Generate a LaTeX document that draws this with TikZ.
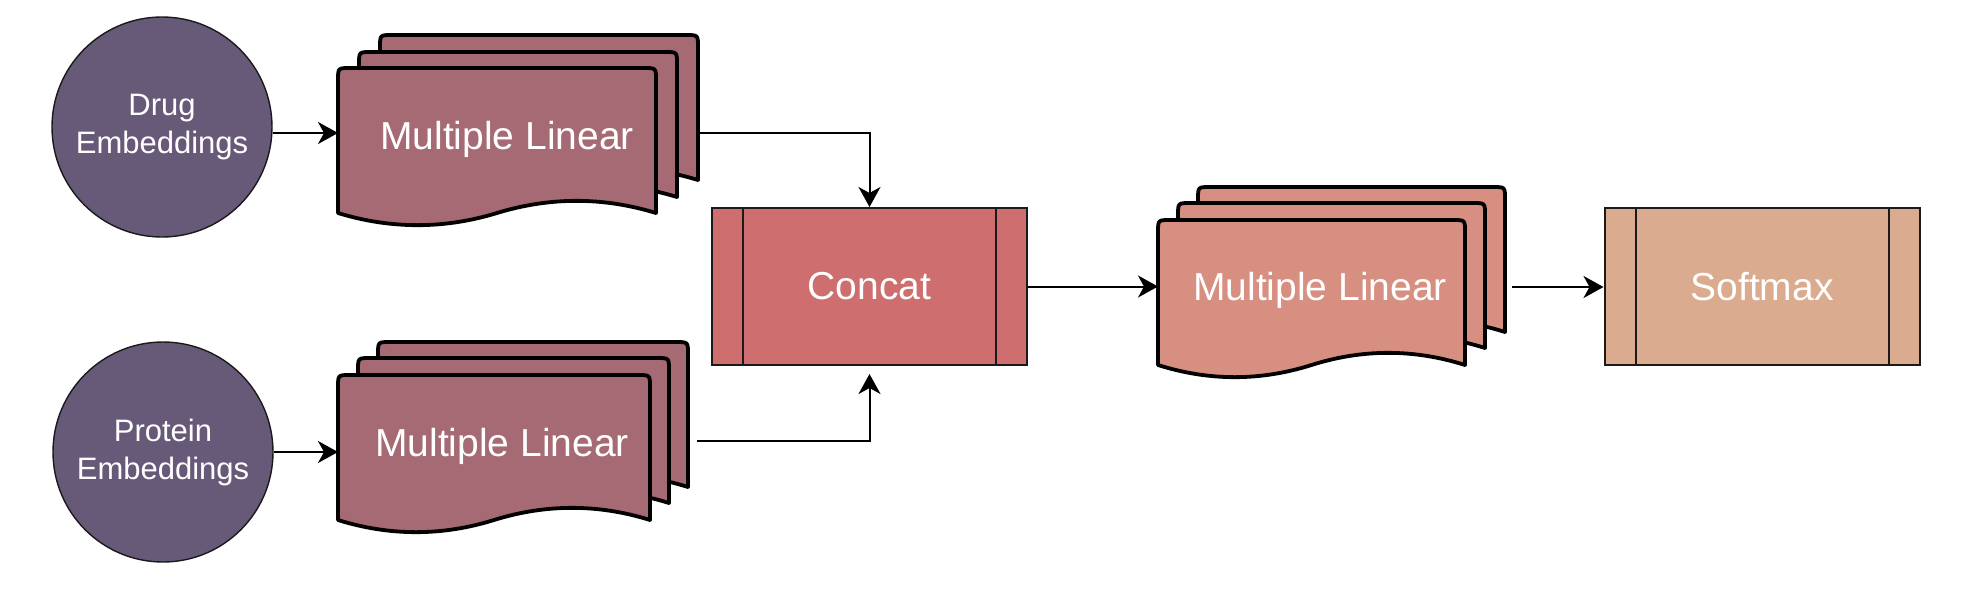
\documentclass[tikz,border=0pt]{standalone}
\usepackage{fontspec}
\setmainfont{Liberation Sans}
\usetikzlibrary{arrows.meta}
\definecolor{cEmb}{HTML}{675978}
\definecolor{cMlA}{HTML}{A66A74}
\definecolor{cCat}{HTML}{CE6E6E}
\definecolor{cMlB}{HTML}{D68F80}
\definecolor{cSoft}{HTML}{DAAB8E}
\definecolor{cEdge}{HTML}{1A1A1A}
\tikzset{
  arr/.style={draw=black, line width=1pt, -{Stealth[length=10pt,width=11pt,inset=3pt]}},
  emb/.style={circle, draw=cEdge, line width=0.7pt, fill=cEmb, minimum size=110pt, inner sep=0pt,
    text=white, align=center, font=\fontsize{15.5}{19}\selectfont},
  sheet/.style={draw=black, line width=1.9pt, line join=round},
  proc/.style={rectangle, draw=cEdge, line width=1pt, minimum width=157.5pt, minimum height=78.5pt,
    inner sep=0pt, text=white, font=\fontsize{19.5}{23}\selectfont},
  procline/.style={draw=cEdge, line width=1pt},
  lbl/.style={text=white, font=\fontsize{19.5}{23}\selectfont, inner sep=0pt},
}
% #1 fill, #2 x, #3 y (top), #4 width, #5 side height
\newcommand\docsheet[5]{%
  \draw[sheet, fill=#1] (#2,{#3+#5}) -- (#2,{#3+12}) .. controls (#2,#3) .. ({#2+12},#3)
    -- ({#2+#4-12},#3) .. controls ({#2+#4},#3) .. ({#2+#4},{#3+12})
    -- ({#2+#4},{#3+#5})
    .. controls ({#2+5*#4/6},{#3+#5-16.2}) and ({#2+2*#4/3},{#3+#5-16.2}) .. ({#2+#4/2},{#3+#5})
    .. controls ({#2+#4/3},{#3+#5+16.2}) and ({#2+#4/6},{#3+#5+16.2}) .. (#2,{#3+#5}) -- cycle;}
\begin{document}
\begin{tikzpicture}[x=0.5pt,y=-0.5pt]
\useasboundingbox (0,0) rectangle (1973,600);
% embeddings
\node[emb] (drug) at (162,127) {Drug\\Embeddings};
\node[emb] (protein) at (163,452) {Protein\\Embeddings};
% top multiple linear stack
\docsheet{cMlA}{380}{35}{318}{145}
\docsheet{cMlA}{359}{52}{318}{145}
\docsheet{cMlA}{338}{68}{318}{145}
\node[lbl] (ml1) at (507,139) {Multiple Linear};
\coordinate (ml1in) at (338,133);
\coordinate (ml1out) at (698,133);
% bottom multiple linear stack
\docsheet{cMlA}{378}{342}{310}{145}
\docsheet{cMlA}{358}{358}{311}{145}
\docsheet{cMlA}{338}{375}{312}{145}
\node[lbl] (ml2) at (502,446) {Multiple Linear};
\coordinate (ml2in) at (338,452);
\coordinate (ml2out) at (697,441);
% concat
\node[proc, fill=cCat] (concat) at (869.5,286.5) {Concat};
\draw[procline] ([xshift=16pt]concat.north west) -- ([xshift=16pt]concat.south west);
\draw[procline] ([xshift=-16pt]concat.north east) -- ([xshift=-16pt]concat.south east);
% right multiple linear stack
\docsheet{cMlB}{1198}{187}{307}{145}
\docsheet{cMlB}{1178}{203}{307}{145}
\docsheet{cMlB}{1158}{220}{307}{145}
\node[lbl] (ml3) at (1320,290) {Multiple Linear};
\coordinate (ml3in) at (1158,287);
\coordinate (ml3out) at (1512,287);
% softmax
\node[proc, fill=cSoft] (softmax) at (1762,286.5) {Softmax};
\draw[procline] ([xshift=16pt]softmax.north west) -- ([xshift=16pt]softmax.south west);
\draw[procline] ([xshift=-16pt]softmax.north east) -- ([xshift=-16pt]softmax.south east);
% connectors
\draw[arr] (ml1in -| drug.east) -- (ml1in);
\draw[arr] (ml2in -| protein.east) -- (ml2in);
\draw[arr] (ml1out) -| (concat.north);
\draw[arr, shorten >=4pt] (ml2out) -| (concat.south);
\draw[arr] (concat.east) -- (concat.east -| ml3in);
\draw[arr] (ml3out) -- (ml3out -| softmax.west);
\end{tikzpicture}
\end{document}
